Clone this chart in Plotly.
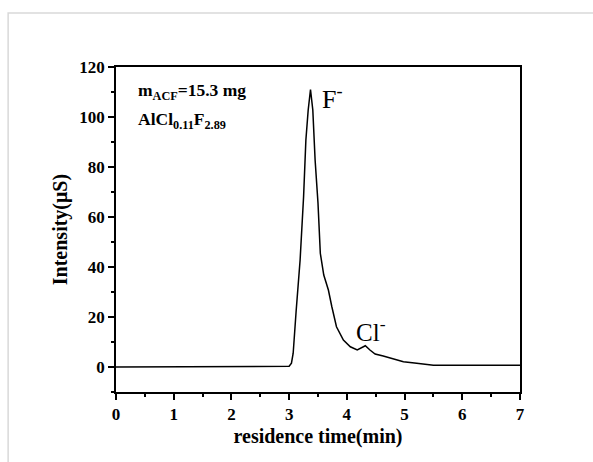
import plotly.graph_objects as go

time_min = [0.0, 1.0, 2.0, 2.9, 3.0, 3.04, 3.07, 3.12, 3.19, 3.25, 3.29, 3.33, 3.37, 3.41, 3.45, 3.50, 3.54,
            3.60, 3.68, 3.74, 3.82, 3.94, 4.06, 4.18, 4.25, 4.32, 4.40, 4.49, 4.63, 4.81, 4.98, 5.21, 5.50, 6.0, 7.0]
intensity = [0.0, 0.0, 0.0, 0.0, 0.3, 1.5, 5.5, 22.0, 42.8, 68.0, 90.8, 102.8, 111.0, 102.8, 82.8, 65.5, 45.5,
             36.8, 30.8, 24.1, 16.1, 10.8, 8.1, 6.8, 7.8, 8.5, 6.8, 5.2, 4.4, 3.1, 2.1, 1.5, 0.7, 0.7, 0.7]

x_ticks = [0, 1, 2, 3, 4, 5, 6, 7]
y_ticks = [0, 20, 40, 60, 80, 100, 120]

FONT = "Liberation Serif"

fig = go.Figure()
fig.add_trace(go.Scatter(x=time_min, y=intensity, mode="lines",
                         line=dict(color="black", width=1.5), showlegend=False))

axis_common = dict(showline=True, linecolor="black", linewidth=1.5, mirror=True,
                   ticks="outside", ticklen=6, tickwidth=1.5, tickcolor="black",
                   showgrid=False, zeroline=False,
                   tickfont=dict(family=FONT, size=17, color="black", weight="bold"))

fig.update_xaxes(range=[0, 7], tickvals=x_ticks, ticktext=[str(v) for v in x_ticks],
                 minor=dict(ticks="outside", ticklen=3, tickwidth=1.5, tickcolor="black", dtick=0.5, tick0=0),
                 title=dict(text="<b>residence time(min)</b>", font=dict(family=FONT, size=20, color="black"), standoff=6),
                 **axis_common)
fig.update_yaxes(range=[-10, 120], tickvals=y_ticks, ticktext=[str(v) for v in y_ticks],
                 minor=dict(ticks="outside", ticklen=3, tickwidth=1.5, tickcolor="black", dtick=10, tick0=0),
                 title=dict(text="<b>Intensity(μS)</b>", font=dict(family=FONT, size=20, color="black"), standoff=6),
                 **axis_common)

fig.add_annotation(x=0.34, y=110.3, xanchor="left", yanchor="middle", showarrow=False,
                   text="<b>m<sub>ACF</sub>=15.3 mg</b>", font=dict(family=FONT, size=17.5, color="black"))
fig.add_annotation(x=0.34, y=98.5, xanchor="left", yanchor="middle", showarrow=False,
                   text="<b>AlCl<sub>0.11</sub>F<sub>2.89</sub></b>", font=dict(family=FONT, size=17.5, color="black"))
fig.add_annotation(x=3.53, y=108.0, xanchor="left", yanchor="middle", showarrow=False,
                   text="F<sup>-</sup>", font=dict(family=FONT, size=26, color="black"))
fig.add_annotation(x=4.13, y=15.0, xanchor="left", yanchor="middle", showarrow=False,
                   text="Cl<sup>-</sup>", font=dict(family=FONT, size=25, color="black"))

# light frame of the original figure image
fig.add_shape(type="rect", xref="paper", yref="paper", x0=-0.267, x1=1.25, y0=-0.3, y1=1.166,
              line=dict(color="#d9d9d9", width=1.5), layer="below")

fig.update_layout(width=593, height=462, margin=dict(l=116, r=73, t=67, b=70),
                  paper_bgcolor="white", plot_bgcolor="white")

fig.write_html("out.html")
